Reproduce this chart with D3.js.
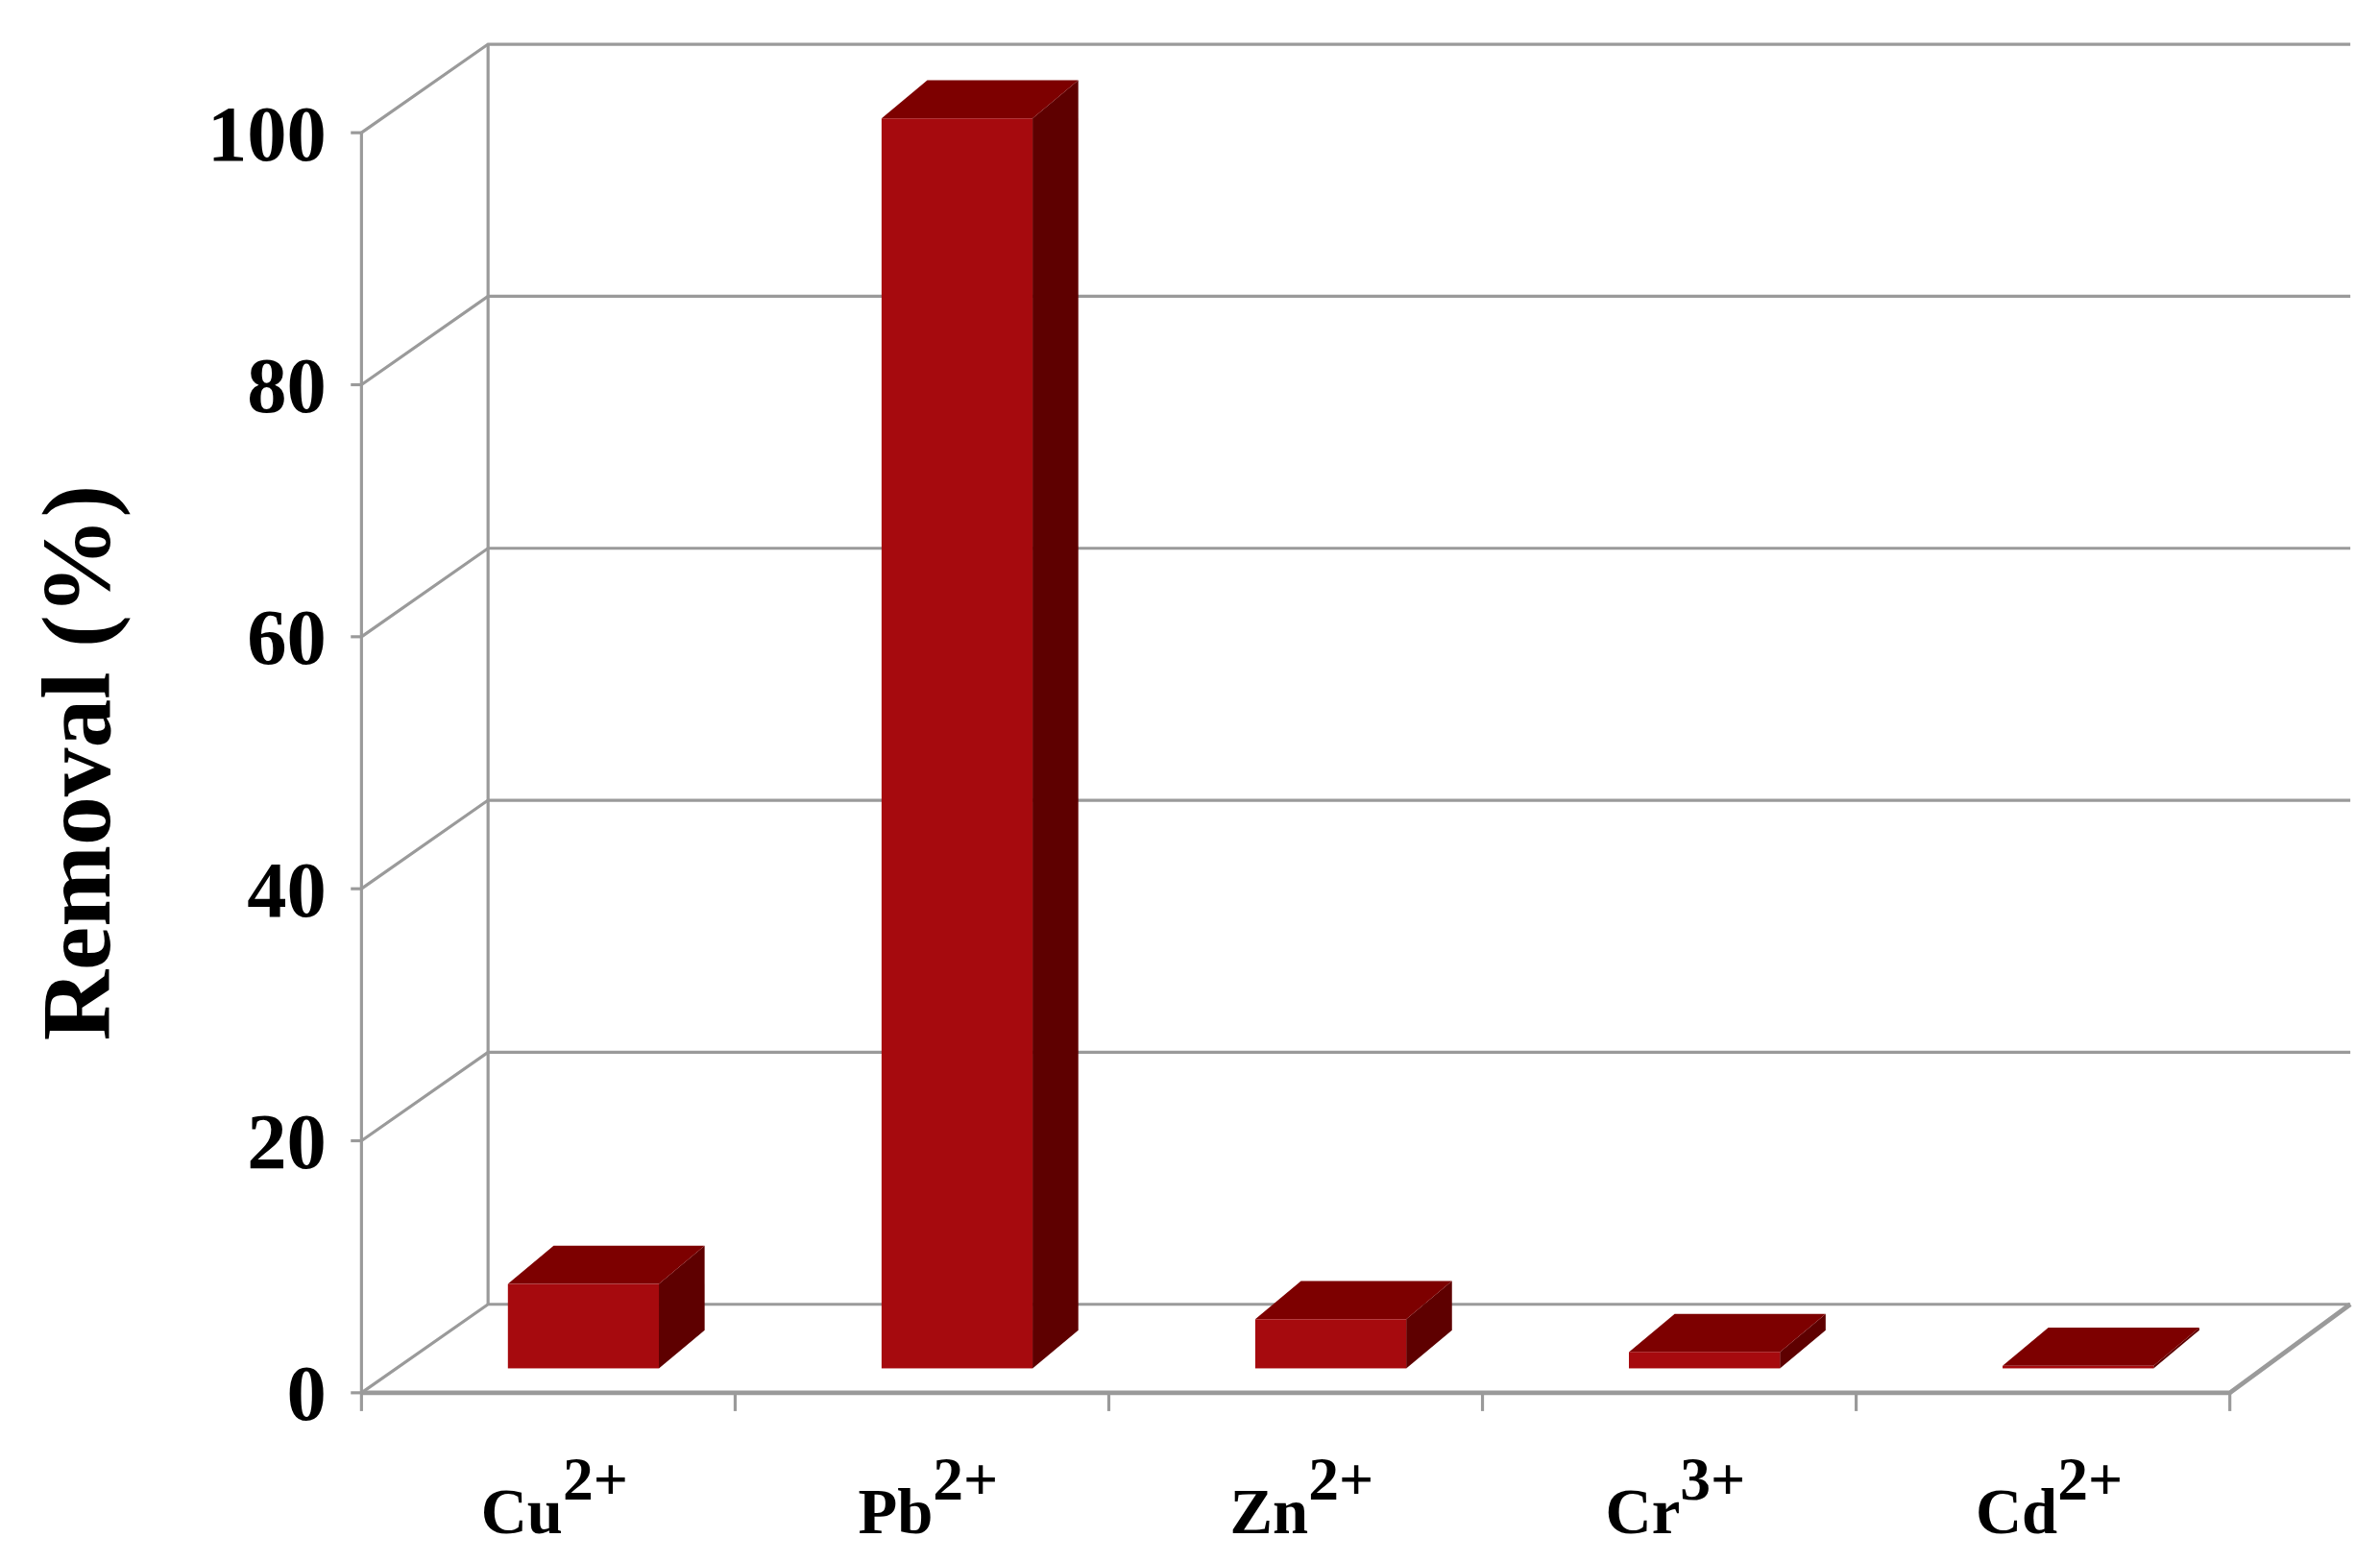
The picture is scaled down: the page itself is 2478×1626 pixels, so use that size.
<!DOCTYPE html>
<html><head><meta charset="utf-8">
<script src="https://cdn.jsdelivr.net/npm/d3@7"></script>
<style>body{margin:0;background:#fff}</style>
</head><body>
<script>
var ions = ["Cu", "Pb", "Zn", "Cr", "Cd"];
var charges = ["2+", "2+", "2+", "3+", "2+"];
var removal = [6.7, 99.2, 3.9, 1.3, 0.2];
var yTicks = [0, 20, 40, 60, 80, 100];

var W = 2478, H = 1626, k = 1.588;
var svg = d3.select("body").append("svg").attr("width", W).attr("height", H);
var g = svg.append("g").attr("transform", "scale(" + k + ")");

var x0 = 237, x1 = 1462, dx = 83, dy = -58;
var y = d3.scaleLinear().domain([0, 100]).range([913, 87]);
var x = d3.scaleBand().domain(ions).range([x0, x1]);
var grid = "#9a9a9a";

// gridlines on the side and back walls
yTicks.forEach(function(t){
  g.append("path").attr("fill", "none").attr("stroke", grid).attr("stroke-width", 2)
    .attr("d", "M" + x0 + "," + y(t) + "L" + (x0 + dx) + "," + (y(t) + dy) + "H" + (x1 + dx - 4));
  g.append("line").attr("x1", x0 - 7).attr("x2", x0).attr("y1", y(t)).attr("y2", y(t)).attr("stroke", grid).attr("stroke-width", 2);
});
g.append("line").attr("x1", x0).attr("x2", x0).attr("y1", y(100)).attr("y2", y(0)).attr("stroke", grid).attr("stroke-width", 2);
g.append("line").attr("x1", x0 + dx).attr("x2", x0 + dx).attr("y1", y(100) + dy).attr("y2", y(0) + dy).attr("stroke", grid).attr("stroke-width", 2);
// floor
g.append("path").attr("fill", "none").attr("stroke", grid).attr("stroke-width", 3)
  .attr("d", "M" + x0 + "," + y(0) + "H" + x1 + "L" + (x1 + dx - 4) + "," + (y(0) + dy));
// category ticks
x.domain().concat([null]).forEach(function(d, i){
  var xx = x0 + i * x.bandwidth();
  g.append("line").attr("x1", xx).attr("x2", xx).attr("y1", y(0)).attr("y2", y(0) + 12).attr("stroke", grid).attr("stroke-width", 2);
});

// bars
var bw = 99, ox = 96, baseY = y(0) - 16, bdx = 30, bdy = -25;
var base = y(0) - baseY;
ions.forEach(function(d, i){
  var bx = x(d) + ox, top = y(removal[i]) - base, bot = baseY;
  g.append("path").attr("fill", "#5e0000")
    .attr("d", "M" + (bx + bw) + "," + bot + "V" + top + "l" + bdx + "," + bdy + "V" + (bot + bdy) + "Z");
  g.append("path").attr("fill", "#7d0000")
    .attr("d", "M" + bx + "," + top + "H" + (bx + bw) + "l" + bdx + "," + bdy + "H" + (bx + bdx) + "Z");
  g.append("rect").attr("x", bx).attr("y", top).attr("width", bw).attr("height", Math.max(0, bot - top)).attr("fill", "#a60a0e");
});

// y tick labels
g.selectAll(".yl").data(yTicks).enter().append("text")
  .attr("x", 214).attr("y", function(d){ return y(d) + 18; })
  .attr("text-anchor", "end").attr("font-family", "Liberation Serif").attr("font-weight", "bold")
  .attr("font-size", 52).text(function(d){ return d; });

g.append("text").attr("transform", "translate(72,500) rotate(-90)")
  .attr("text-anchor", "middle").attr("font-family", "Liberation Serif").attr("font-weight", "bold")
  .attr("font-size", 64).text("Removal (%)");

// x labels
ions.forEach(function(d, i){
  var t = g.append("text").attr("x", x(d) + x.bandwidth() / 2 + 4).attr("y", 1005)
    .attr("text-anchor", "middle").attr("font-family", "Liberation Serif").attr("font-weight", "bold").attr("font-size", 42);
  t.append("tspan").text(d);
  t.append("tspan").attr("dy", -22).attr("font-size", 40).text(charges[i]);
});
</script>
</body></html>
